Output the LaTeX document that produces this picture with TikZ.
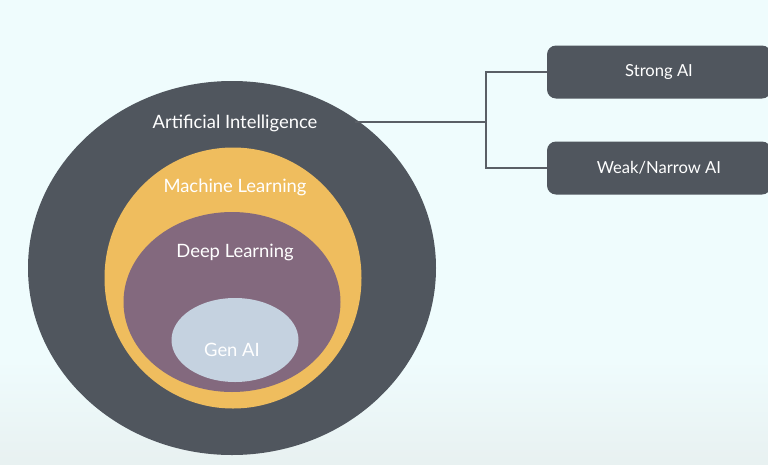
\documentclass[tikz,border=0pt]{standalone}
\usepackage{fontspec}
\setmainfont{Lato}
\usetikzlibrary{shapes.geometric}
\definecolor{bgtop}{HTML}{EFFCFD}
\definecolor{bgbot}{HTML}{E8F1F1}
\definecolor{darkg}{HTML}{50565E}
\definecolor{mlyel}{HTML}{EFBD5E}
\definecolor{dlpur}{HTML}{83697E}
\definecolor{genbl}{HTML}{C5D2E0}
\definecolor{linec}{HTML}{5A5F66}
\tikzset{
  blob/.style={ellipse, inner sep=0pt, draw=none},
  lab/.style={text=white, font=\fontsize{18.4}{20}\selectfont},
  sidebox/.style={rounded corners=9pt, fill=darkg, text=white, minimum width=224pt, minimum height=53pt, font=\fontsize{16.6}{18}\selectfont},
  link/.style={draw=linec, line width=1.6pt}
}
\begin{document}
\begin{tikzpicture}[x=1pt,y=-1pt]
\useasboundingbox (0,0) rectangle (768,464);
\fill[bgtop] (0,0) rectangle (768,360);
\shade[top color=bgtop, bottom color=bgbot] (0,360) rectangle (768,464);
\node[blob, fill=darkg, minimum width=408pt, minimum height=374pt] (ai) at (232,268) {};
\node[blob, fill=mlyel, minimum width=257pt, minimum height=261pt] (ml) at (233,278) {};
\node[blob, fill=dlpur, minimum width=217pt, minimum height=180pt] (dl) at (232,302) {};
\node[blob, fill=genbl, minimum width=127pt, minimum height=84pt] (gen) at (235,340) {};
\node[lab] (ait) at (235,123) {Artificial Intelligence};
\node[lab] (mlt) at (235,187) {Machine Learning};
\node[lab] (dlt) at (235,252) {Deep Learning};
\node[lab] (gent) at (232,350) {Gen AI};
\node[sidebox] (strong) at (659,72) {Strong AI};
\node[sidebox] (weak) at (659,168) {Weak/Narrow AI};
\coordinate (aiport) at (355,122);
\coordinate (split) at (486,122);
\draw[link] (aiport) -- (split);
\draw[link] (strong.west) -| (split) |- (weak.west);
\end{tikzpicture}
\end{document}
